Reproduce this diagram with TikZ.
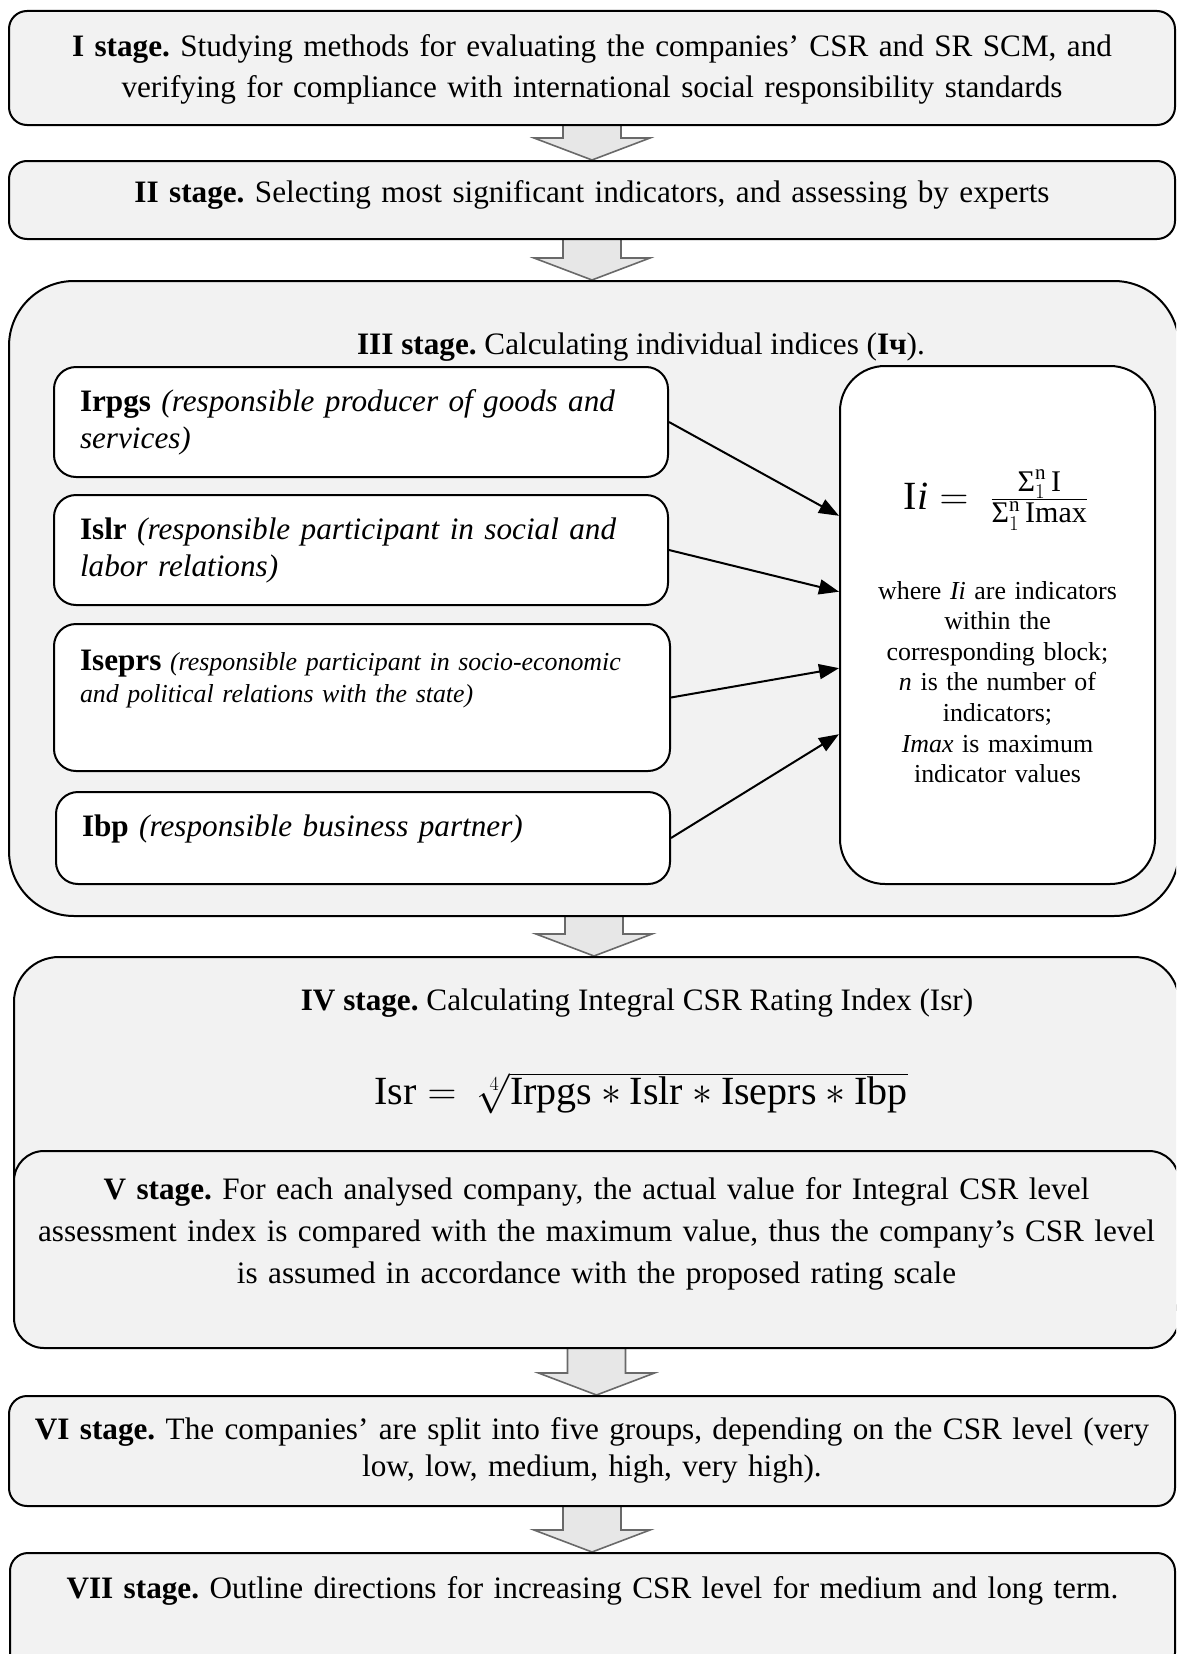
\RequirePackage{fix-cm}
\documentclass[tikz,border=0pt]{standalone}
\usepackage{fontspec}
\setmainfont{Liberation Serif}
\setmathrm{Liberation Serif}
\frenchspacing
\usetikzlibrary{positioning,calc,arrows.meta,backgrounds}

\definecolor{stagefill}{RGB}{242,242,242}
\definecolor{arrowfill}{RGB}{231,231,231}
\definecolor{arrowline}{RGB}{105,105,105}

\newcommand{\stagefont}{\fontsize{31.2}{40}\selectfont}
\newcommand{\notefont}{\fontsize{25.9}{30.6}\selectfont}
\newcommand{\eqfont}{\fontsize{40}{48}\selectfont}
\newcommand{\fracfont}{\fontsize{30}{30}\selectfont}
\newcommand{\sumpart}[1]{\mbox{\fracfont$\mbox{Σ}_{1}^{\mathrm{n}}\,\mathrm{#1}$}}

\tikzset{
  stagebox/.style={draw, line width=2pt, fill=stagefill, inner sep=0pt,
    anchor=north west, align=center, font=\stagefont},
  indexbox/.style={draw, line width=2pt, fill=white, rounded corners=22pt,
    inner xsep=26pt, inner ysep=0pt, anchor=north west, align=left,
    text width=562pt, font=\fontsize{31.2}{37}\selectfont},
  blockarrow/.style={fill=arrowfill, draw=arrowline, line width=1.6pt},
  feed/.style={line width=2pt, -{Triangle[length=20pt,width=15pt]}}
}

% grey block arrow from one stage down to the next
\newcommand{\stagearrow}[2]{%
  \draw[blockarrow] ($(#1.south)+(-29,0)$) -- ($(#1.south |- #2.north)+(-29,-22)$)
    -- ++(-29,0) -- (#1.south |- #2.north) -- ++(58,-22) -- ++(-29,0)
    -- ($(#1.south)+(29,0)$);}

\begin{document}
\begin{tikzpicture}[x=1pt, y=-1pt]
  \useasboundingbox (0,0) rectangle (1176,1654);
  \clip (0,0) rectangle (1176,1654);

  % stages I and II
  \node[stagebox, rounded corners=18pt, text width=1166pt, text height=46pt, text depth=68pt] (s1) at (8,10)
    {\textbf{I stage.} Studying methods for evaluating the companies’ CSR and SR SCM, and\\
     verifying for compliance with international social responsibility standards};
  \node[stagebox, rounded corners=18pt, text width=1166pt, text height=41pt, text depth=37pt] (s2) at (8,160)
    {\textbf{II stage.} Selecting most significant indicators, and assessing by experts};

  % stage III: individual indices
  \node[stagebox, rounded corners=65pt, minimum width=1170pt, minimum height=635pt] (s3) at (8,280) {};
  \node[font=\stagefont, anchor=base] (s3title) at (641,354)
    {\textbf{III stage.} Calculating individual indices (\textbf{Iч}).};
  \node[indexbox, text height=44pt, text depth=66pt] (irpgs) at (53,366)
    {\textbf{Irpgs} \textit{(responsible producer of goods and}\\ \textit{services)}};
  \node[indexbox, text height=44pt, text depth=66pt] (islr) at (53,494)
    {\textbf{Islr} \textit{(responsible participant in social and}\\ \textit{labor relations)}};
  \node[indexbox, text width=564pt, text height=46pt, text depth=101pt,
    font=\fontsize{25.9}{32}\selectfont] (iseprs) at (53,623)
    {{\fontsize{31.2}{32}\selectfont\textbf{Iseprs}} \textit{(responsible participant in socio-economic}\\
     \textit{and political relations with the state)}};
  \node[indexbox, text height=44pt, text depth=48pt] (ibp) at (55,791)
    {\textbf{Ibp} \textit{(responsible business partner)}};
  \node[draw, line width=2pt, fill=white, rounded corners=45pt, inner sep=0pt, anchor=north west,
    align=center, text width=315pt, text height=233pt, text depth=285pt, font=\notefont] (icalc) at (839,365)
    {where \textit{Ii} are indicators\\ within the\\ corresponding block;\\ \textit{n} is the number of\\
     indicators;\\ \textit{Imax} is maximum\\ indicator values};
  \node[font=\eqfont] (iieq) at (996,500)
    {$\mathrm{I}\mathit{i} =\; \frac{\sumpart{I}}{\sumpart{Imax}}$};
  \draw[feed] (irpgs.east) -- ($(icalc.north west)!0.29!(icalc.south west)$);
  \draw[feed] (islr.east) -- ($(icalc.north west)!0.436!(icalc.south west)$);
  \draw[feed] (iseprs.east) -- ($(icalc.north west)!0.583!(icalc.south west)$);
  \draw[feed] (ibp.east) -- ($(icalc.north west)!0.71!(icalc.south west)$);

  % stages IV and V
  \node[stagebox, rounded corners=45pt, minimum width=1165pt, minimum height=380pt] (s4) at (13,956) {};
  \node[font=\stagefont, anchor=base] (s4title) at (637,1010)
    {\textbf{IV stage.} Calculating Integral CSR Rating Index (Isr)};
  \node[font=\eqfont] (isreq) at (641,1093)
    {$\mathrm{Isr} =\; \sqrt[4]{\mathrm{Irpgs}\ast\mathrm{Islr}\ast\mathrm{Iseprs}\ast\mathrm{Ibp}}$};
  \node[stagebox, rounded corners=30pt, text width=1165pt, text height=48pt, text depth=149pt,
    font=\fontsize{31.2}{42}\selectfont] (s5) at (13,1150)
    {\textbf{V stage.} For each analysed company, the actual value for Integral CSR level\\
     assessment index is compared with the maximum value, thus the company’s CSR level\\
     is assumed in accordance with the proposed rating scale};

  % stages VI and VII
  \node[stagebox, rounded corners=18pt, text width=1166pt, text height=43pt, text depth=67pt,
    font=\fontsize{31.2}{37}\selectfont] (s6) at (8,1395)
    {\textbf{VI stage.} The companies’ are split into five groups, depending on the CSR level (very\\
     low, low, medium, high, very high).};
  \node[stagebox, rounded corners=18pt, text width=1165pt, text height=45pt, text depth=73pt] (s7) at (9,1552)
    {\textbf{VII stage.} Outline directions for increasing CSR level for medium and long term.};

  \begin{scope}[on background layer]
    \stagearrow{s1}{s2}
    \stagearrow{s2}{s3}
    \stagearrow{s3}{s4}
    \stagearrow{s5}{s6}
    \stagearrow{s6}{s7}
  \end{scope}
\end{tikzpicture}
\end{document}
